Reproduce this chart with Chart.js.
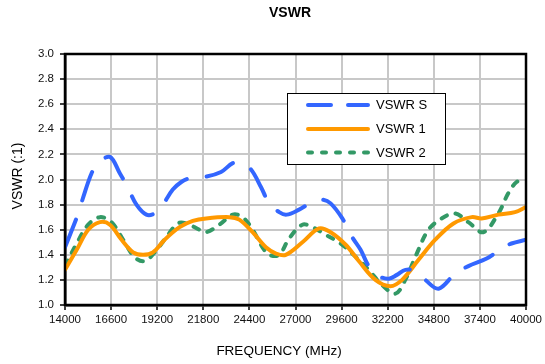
<!DOCTYPE html>
<html>
<head>
<meta charset="utf-8">
<script src="https://cdn.jsdelivr.net/npm/chart.js@4/dist/chart.umd.min.js"></script>
<style>
  html, body { margin: 0; padding: 0; background: #fff; }
  #wrap { width: 545px; height: 364px; position: relative; }
</style>
</head>
<body>
<div id="wrap"><canvas id="c" width="545" height="364"></canvas></div>
<script>
// ---- Data ----
const chartTitle = "VSWR";
const xAxisTitle = "FREQUENCY (MHz)";
const yAxisTitle = "VSWR (:1)";
const xTicks = [14000, 16600, 19200, 21800, 24400, 27000, 29600, 32200, 34800, 37400, 40000];
const yTicks = [1.0, 1.2, 1.4, 1.6, 1.8, 2.0, 2.2, 2.4, 2.6, 2.8, 3.0];
const seriesNames = ["VSWR S", "VSWR 1", "VSWR 2"];

const freqS = [14000, 14750, 15030, 15500, 15870, 16530, 17090, 17560, 18030, 18590, 19060, 19520, 20080, 20560, 21020, 21870, 22800, 23460, 23930, 24490, 25050, 25520, 26080, 26500, 27200, 27950, 28510, 28980, 29640, 30200, 30670, 31130, 31700, 32260, 32720, 33200, 33760, 34320, 35070, 36000, 36750, 37780, 38620, 39180, 40000];
const vswrS = [1.46, 1.73, 1.86, 2.05, 2.13, 2.18, 2.05, 1.93, 1.80, 1.72, 1.73, 1.80, 1.92, 1.98, 2.01, 2.02, 2.06, 2.13, 2.13, 2.08, 1.94, 1.81, 1.74, 1.72, 1.76, 1.82, 1.84, 1.81, 1.69, 1.54, 1.44, 1.31, 1.23, 1.21, 1.24, 1.28, 1.27, 1.20, 1.13, 1.25, 1.31, 1.37, 1.45, 1.49, 1.52];

const freq1 = [14000, 14660, 15310, 15970, 16530, 17190, 17840, 18400, 18960, 19620, 20460, 21210, 21960, 23270, 23830, 24580, 25330, 25900, 26450, 27390, 28330, 28980, 29830, 30570, 31510, 32350, 33010, 33940, 34880, 35910, 36940, 37500, 38440, 39380, 40000];
const vswr1 = [1.28, 1.44, 1.60, 1.66, 1.64, 1.52, 1.42, 1.40, 1.42, 1.52, 1.62, 1.67, 1.69, 1.70, 1.68, 1.58, 1.46, 1.41, 1.40, 1.50, 1.61, 1.58, 1.48, 1.35, 1.20, 1.15, 1.20, 1.36, 1.52, 1.65, 1.70, 1.69, 1.72, 1.74, 1.78];

const freq2 = [14000, 14660, 15310, 15970, 16620, 17280, 17930, 18490, 19060, 19710, 20370, 20840, 21580, 21960, 22710, 23460, 24020, 24580, 25140, 25520, 26080, 26640, 27390, 27950, 28700, 29540, 30200, 31130, 31880, 32630, 33190, 33840, 34500, 35250, 36000, 36750, 37590, 38440, 39000, 39470, 40000];
const vswr2 = [1.31, 1.49, 1.64, 1.70, 1.66, 1.52, 1.38, 1.35, 1.42, 1.54, 1.65, 1.65, 1.60, 1.58, 1.64, 1.72, 1.70, 1.60, 1.46, 1.40, 1.40, 1.53, 1.64, 1.62, 1.56, 1.49, 1.41, 1.28, 1.16, 1.09, 1.20, 1.41, 1.60, 1.69, 1.73, 1.66, 1.58, 1.73, 1.89, 1.98, 2.00];

// ---- Styles ----
const FONT = "'Liberation Sans', Arial, Helvetica, sans-serif";
const colors = ["#3366ff", "#ff9900", "#339966"];
const dashes = [[30, 20], [], [6, 9]];
const legendDashes = [[23, 17], [], [4, 10]];

function pts(xs, ys) { return xs.map((x, i) => ({ x: x, y: ys[i] })); }

const datasets = [
  { label: seriesNames[0], data: pts(freqS, vswrS) },
  { label: seriesNames[1], data: pts(freq1, vswr1) },
  { label: seriesNames[2], data: pts(freq2, vswr2) }
].map((d, i) => Object.assign(d, {
  borderColor: colors[i],
  backgroundColor: colors[i],
  borderWidth: 4,
  borderDash: dashes[i],
  borderCapStyle: 'round',
  borderJoinStyle: 'round',
  pointRadius: 0,
  pointHoverRadius: 0,
  tension: 0.35,
  fill: false
}));

const decorPlugin = {
  id: 'decor',
  afterDatasetsDraw(chart) {
    const ctx = chart.ctx;
    const a = chart.chartArea;
    ctx.save();
    // frame
    ctx.strokeStyle = '#000';
    ctx.lineWidth = 2.5;
    ctx.setLineDash([]);
    ctx.strokeRect(a.left, a.top, a.right - a.left, a.bottom - a.top);

    // legend
    const bx = 287, by = 93, bw = 158, bh = 71;
    ctx.fillStyle = '#fff';
    ctx.fillRect(bx, by, bw, bh);
    ctx.lineWidth = 1;
    ctx.strokeStyle = '#000';
    ctx.strokeRect(bx + 0.5, by + 0.5, bw, bh);
    const rows = [105, 129, 152.5];
    chart.data.datasets.forEach((ds, i) => {
      const y = rows[i];
      ctx.beginPath();
      ctx.strokeStyle = ds.borderColor;
      ctx.lineWidth = 4;
      ctx.lineCap = 'round';
      ctx.setLineDash(legendDashes[i]);
      ctx.moveTo(308, y);
      ctx.lineTo(368, y);
      ctx.stroke();
      ctx.setLineDash([]);
      ctx.fillStyle = '#000';
      ctx.font = '13px ' + FONT;
      ctx.textAlign = 'left';
      ctx.textBaseline = 'middle';
      ctx.fillText(ds.label, 376, y + 0.5);
    });

    // titles
    ctx.fillStyle = '#000';
    ctx.textAlign = 'center';
    ctx.textBaseline = 'middle';
    ctx.font = 'bold 14px ' + FONT;
    ctx.fillText(chartTitle, 290, 13);
    ctx.font = '13.5px ' + FONT;
    ctx.fillText(xAxisTitle, 279, 351);
    ctx.save();
    ctx.translate(18.5, 176);
    ctx.rotate(-Math.PI / 2);
    ctx.font = '14px ' + FONT;
    ctx.fillText(yAxisTitle, 0, 0);
    ctx.restore();
    ctx.restore();
  }
};

new Chart(document.getElementById('c'), {
  type: 'line',
  data: { datasets: datasets },
  options: {
    responsive: false,
    animation: false,
    devicePixelRatio: 1,
    layout: { padding: { left: 0, right: 17, top: 54, bottom: 0 } },
    plugins: {
      legend: { display: false },
      title: { display: false },
      tooltip: { enabled: false }
    },
    scales: {
      x: {
        type: 'linear',
        min: xTicks[0],
        max: xTicks[xTicks.length - 1],
        afterBuildTicks(scale) { scale.ticks = xTicks.map(v => ({ value: v })); },
        afterFit(scale) { scale.height = 59; },
        ticks: {
          color: '#111',
          font: { family: FONT, size: 11.5 },
          padding: 3,
          maxRotation: 0,
          autoSkip: false,
          callback: v => String(v)
        },
        grid: { color: '#c8c8c8', lineWidth: 2, tickLength: 5, tickColor: '#000', tickWidth: 1.5 },
        border: { color: '#000', width: 2.5 }
      },
      y: {
        type: 'linear',
        min: yTicks[0],
        max: yTicks[yTicks.length - 1],
        afterBuildTicks(scale) { scale.ticks = yTicks.map(v => ({ value: v })); },
        afterFit(scale) { scale.width = 65; },
        ticks: {
          color: '#111',
          font: { family: FONT, size: 11.5 },
          padding: 6,
          callback: v => Number(v).toFixed(1)
        },
        grid: { color: '#c8c8c8', lineWidth: 2, tickLength: 5, tickColor: '#000', tickWidth: 1.5 },
        border: { color: '#000', width: 2.5 }
      }
    }
  },
  plugins: [decorPlugin]
});
</script>
</body>
</html>
